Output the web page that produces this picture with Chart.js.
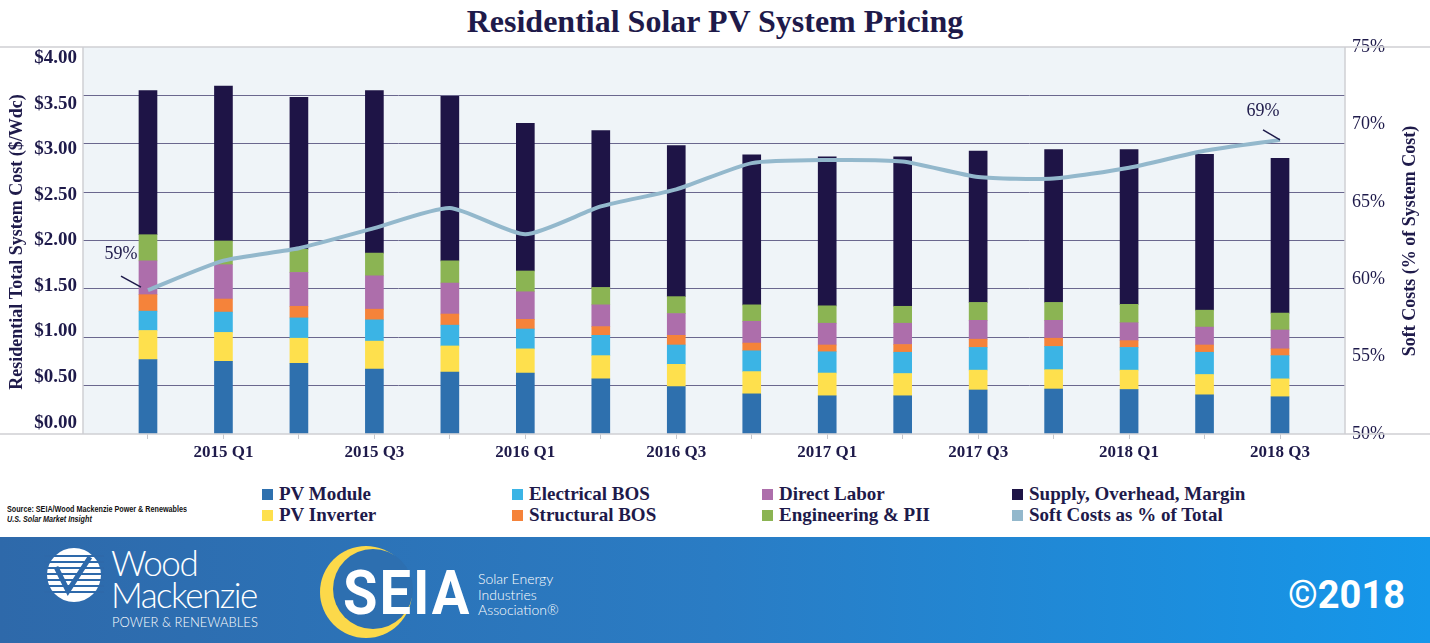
<!DOCTYPE html>
<html>
<head>
<meta charset="utf-8">
<script src="https://cdn.jsdelivr.net/npm/chart.js@4.4.0/dist/chart.umd.min.js"></script>
<style>
body { margin: 0; width: 1430px; height: 643px; position: relative; overflow: hidden; background: #fff; }
#title { position: absolute; left: 0; top: 3px; width: 1430px; text-align: center; font: bold 32px "Liberation Serif", serif; color: #1e1a4a; }
#wrap { position: absolute; left: 0; top: 0; width: 1430px; height: 470px; }
.item { position: absolute; font: bold 19px "Liberation Serif", serif; color: #1e1a4a; white-space: nowrap; line-height: 20px; }
.item .box { position: absolute; left: 0; top: 5px; width: 11px; height: 11px; }
.item .txt { position: absolute; left: 17px; top: 0; }
#source { position: absolute; left: 7px; top: 504px; font: bold 9px "Liberation Sans", sans-serif; color: #111; line-height: 10px; transform: scaleX(0.8); transform-origin: left top; white-space: nowrap; }
#banner { position: absolute; left: 0; top: 537px; width: 1430px; height: 106px; background: linear-gradient(to right, #2e69aa, #2a7cc4 50%, #1597ea); color: #fff; }
.wm { position: absolute; font-family: Lato, sans-serif; font-weight: 300; color: #fff; white-space: nowrap; }
</style>
</head>
<body>
<div id="title">Residential Solar PV System Pricing</div>
<div id="wrap"><canvas id="graph" width="1430" height="470"></canvas></div>
<div id="legend"></div>
<div id="source">Source: SEIA/Wood Mackenzie Power &amp; Renewables<br><i>U.S. Solar Market Insight</i></div>
<div id="banner">
  <svg style="position:absolute;left:44px;top:10px" width="60" height="56" viewBox="0 0 60 56">
    <circle cx="30" cy="28" r="27" fill="#fff"/>
    <g stroke="#2e69aa" stroke-width="2.2">
      <line x1="0" y1="9" x2="60" y2="9"/><line x1="0" y1="15" x2="60" y2="15"/>
      <line x1="0" y1="21" x2="60" y2="21"/><line x1="0" y1="27" x2="60" y2="27"/>
      <line x1="0" y1="33" x2="60" y2="33"/><line x1="0" y1="39" x2="60" y2="39"/>
      <line x1="0" y1="45" x2="60" y2="45"/>
    </g>
    <path d="M12 20 L24 44 L46 10" fill="none" stroke="#2e69aa" stroke-width="5"/>
  </svg>
  <div class="wm" style="left:111px;top:4px;font-size:35px;letter-spacing:-1.5px">Wood</div>
  <div class="wm" style="left:111px;top:36px;font-size:35px;letter-spacing:-1.5px">Mackenzie</div>
  <div class="wm" style="left:112px;top:77px;font-size:13px">POWER &amp; RENEWABLES</div>
  <svg style="position:absolute;left:318px;top:6px" width="100" height="98" viewBox="0 0 100 98">
    <circle cx="48" cy="49" r="46" fill="#fcd94a"/>
    <circle cx="55" cy="46" r="40" fill="#2d6fb0"/>
  </svg>
  <div class="wm" style="left:343px;top:20px;font:bold 56px Roboto, sans-serif;letter-spacing:2px;transform:scaleY(1.1);transform-origin:left top">SEIA</div>
  <div class="wm" style="left:478px;top:34px;font-size:14px;line-height:15.5px">Solar Energy<br>Industries<br>Association®</div>
  <div class="wm" style="right:25px;top:36px;font:bold 38px Roboto, sans-serif">©2018</div>
</div>
<script>
// quarters and component costs ($/Wdc)
var quarters = ['2014 Q4', '2015 Q1', '2015 Q2', '2015 Q3', '2015 Q4', '2016 Q1', '2016 Q2', '2016 Q3',
    '2016 Q4', '2017 Q1', '2017 Q2', '2017 Q3', '2017 Q4', '2018 Q1', '2018 Q2', '2018 Q3'];
var pvModule = [0.77, 0.75, 0.73, 0.67, 0.64, 0.63, 0.57, 0.49, 0.415, 0.395, 0.395, 0.455, 0.465, 0.46, 0.405, 0.385];
var pvInverter = [0.30, 0.30, 0.26, 0.29, 0.27, 0.25, 0.24, 0.23, 0.23, 0.235, 0.23, 0.205, 0.20, 0.20, 0.21, 0.185];
var electricalBos = [0.20, 0.21, 0.21, 0.22, 0.215, 0.205, 0.21, 0.20, 0.215, 0.22, 0.22, 0.235, 0.24, 0.235, 0.23, 0.24];
var structuralBos = [0.17, 0.135, 0.12, 0.11, 0.115, 0.10, 0.09, 0.10, 0.08, 0.07, 0.08, 0.085, 0.085, 0.07, 0.075, 0.07];
var directLabor = [0.35, 0.355, 0.35, 0.345, 0.32, 0.285, 0.225, 0.225, 0.225, 0.225, 0.22, 0.195, 0.185, 0.185, 0.185, 0.195];
var engineeringPii = [0.27, 0.245, 0.24, 0.235, 0.23, 0.215, 0.18, 0.175, 0.17, 0.18, 0.175, 0.185, 0.185, 0.19, 0.175, 0.175];
var supplyOverhead = [1.49, 1.60, 1.57, 1.68, 1.70, 1.525, 1.62, 1.56, 1.55, 1.54, 1.545, 1.565, 1.58, 1.60, 1.61, 1.60];
// soft costs as % of total
var softCostPct = [59.3, 61.2, 62.0, 63.3, 64.6, 62.9, 64.7, 65.8, 67.5, 67.7, 67.6, 66.6, 66.5, 67.2, 68.3, 69.0];
var costTicks = [0, 0.5, 1, 1.5, 2, 2.5, 3, 3.5, 4];

var textColor = '#1e1a4a';
Chart.defaults.font.family = '"Liberation Serif", serif';
Chart.defaults.color = textColor;

function pts(arr) {
    return arr.map(function (v, i) { return { x: i, y: v }; });
}
function barSet(label, arr, color) {
    return { type: 'bar', label: label, data: pts(arr), backgroundColor: color, borderWidth: 0,
        barThickness: 18, stack: 'cost', yAxisID: 'y', order: 1 };
}

var data = {
    datasets: [
        barSet('PV Module', pvModule, '#2e70ae'),
        barSet('PV Inverter', pvInverter, '#fee04d'),
        barSet('Electrical BOS', electricalBos, '#3bb4e5'),
        barSet('Structural BOS', structuralBos, '#f5833a'),
        barSet('Direct Labor', directLabor, '#ad6eab'),
        barSet('Engineering & PII', engineeringPii, '#8bb453'),
        barSet('Supply, Overhead, Margin', supplyOverhead, '#1e1446'),
        {
            type: 'line', label: 'Soft Costs as % of Total', data: pts(softCostPct), yAxisID: 'y2',
            borderColor: '#93b8cc', backgroundColor: '#93b8cc', borderWidth: 4, pointRadius: 0,
            tension: 0.2, order: 0
        }
    ]
};

var decor = {
    id: 'decor',
    beforeDraw: function (chart) {
        var a = chart.chartArea, c = chart.ctx;
        c.save();
        c.fillStyle = '#eff4f8';
        c.fillRect(a.left, a.top, a.right - a.left, a.bottom - a.top);
        c.restore();
    },
    afterDraw: function (chart) {
        var a = chart.chartArea, c = chart.ctx;
        c.save();
        // frame
        c.strokeStyle = '#cfcfd4';
        c.lineWidth = 1.5;
        c.beginPath();
        c.moveTo(0, a.top); c.lineTo(chart.width, a.top);
        c.moveTo(0, a.bottom); c.lineTo(chart.width, a.bottom);
        c.moveTo(a.left, a.top); c.lineTo(a.left, a.bottom);
        c.moveTo(a.right, a.top); c.lineTo(a.right, a.bottom);
        c.stroke();
        // axis titles, both reading bottom to top
        c.fillStyle = textColor;
        c.font = 'bold 18px "Liberation Serif"';
        c.textAlign = 'center';
        c.textBaseline = 'middle';
        c.translate(17, 242); c.rotate(-Math.PI / 2);
        c.fillText('Residential Total System Cost ($/Wdc)', 0, 0);
        c.setTransform(1, 0, 0, 1, 0, 0);
        c.translate(1410, 241); c.rotate(-Math.PI / 2);
        c.fillText('Soft Costs (% of System Cost)', 0, 0);
        c.setTransform(1, 0, 0, 1, 0, 0);
        // first and last percentage call-outs
        var meta = chart.getDatasetMeta(7);
        var p0 = meta.data[0], pN = meta.data[meta.data.length - 1];
        c.font = '18px "Liberation Serif"';
        c.strokeStyle = textColor;
        c.lineWidth = 1.5;
        c.fillText(Math.round(softCostPct[0]) + '%', p0.x - 27, p0.y - 36);
        c.beginPath(); c.moveTo(p0.x - 27, p0.y - 14); c.lineTo(p0.x - 7, p0.y - 3); c.stroke();
        c.fillText(Math.round(softCostPct[softCostPct.length - 1]) + '%', pN.x - 17, pN.y - 29);
        c.beginPath(); c.moveTo(pN.x - 17, pN.y - 10); c.lineTo(pN.x, pN.y); c.stroke();
        c.restore();
    }
};

var option = {
    responsive: false,
    animation: false,
    layout: { padding: { top: 47, left: 0, right: 0, bottom: 0 } },
    plugins: { legend: { display: false }, tooltip: { enabled: false }, title: { display: false } },
    scales: {
        x: {
            type: 'linear', min: -0.861, max: 15.861, offset: false, stacked: true,
            grid: { display: true, offset: false, drawOnChartArea: false, tickLength: 5, color: '#c8c8cc' },
            border: { display: false },
            ticks: {
                stepSize: 1, includeBounds: false, autoSkip: false, maxRotation: 0, padding: 3,
                font: { size: 17, weight: 'bold' },
                callback: function (v) { return (v % 2 === 1 && quarters[v]) ? quarters[v] : ''; }
            },
            afterFit: function (s) { s.height = 36; }
        },
        y: {
            position: 'left', min: 0, max: 4, stacked: true,
            grid: {
                drawTicks: false,
                color: function (ctx) { return (ctx.tick.value === 0 || ctx.tick.value === 4) ? 'rgba(0,0,0,0)' : '#6a678e'; }
            },
            border: { display: false },
            ticks: { display: false, stepSize: 0.5 },
            afterFit: function (s) { s.width = 0; }
        },
        yLab: {
            position: 'left', min: -0.124, max: 4.121,
            grid: { display: false, drawTicks: false },
            border: { display: false },
            ticks: {
                stepSize: 0.5, includeBounds: false, padding: 6,
                font: { size: 19, weight: 'bold' },
                callback: function (v) { return costTicks.indexOf(v) >= 0 ? '$' + v.toFixed(2) : ''; }
            },
            afterFit: function (s) { s.width = 83; }
        },
        y2: {
            position: 'right', min: 50, max: 75,
            grid: { display: false, drawTicks: false },
            border: { display: false },
            ticks: { stepSize: 5, padding: 7, font: { size: 18 }, callback: function (v) { return v + '%'; } },
            afterFit: function (s) { s.width = 85; }
        }
    }
};

var ctx = document.getElementById('graph');
var graphique = new Chart(ctx, { type: 'bar', data: data, options: option, plugins: [decor] });

// legend, 4 columns x 2 rows, filled column by column
var legend = document.getElementById('legend');
graphique.data.datasets.forEach(function (ds, i) {
    var col = Math.floor(i / 2), row = i % 2;
    var el = document.createElement('div');
    el.className = 'item';
    el.style.left = (262 + col * 250) + 'px';
    el.style.top = (484 + row * 21) + 'px';
    el.innerHTML = '<span class="box"></span><span class="txt"></span>';
    el.firstChild.style.background = ds.type === 'bar' ? ds.backgroundColor : ds.borderColor;
    el.lastChild.textContent = ds.label;
    legend.appendChild(el);
});
</script>
</body>
</html>
